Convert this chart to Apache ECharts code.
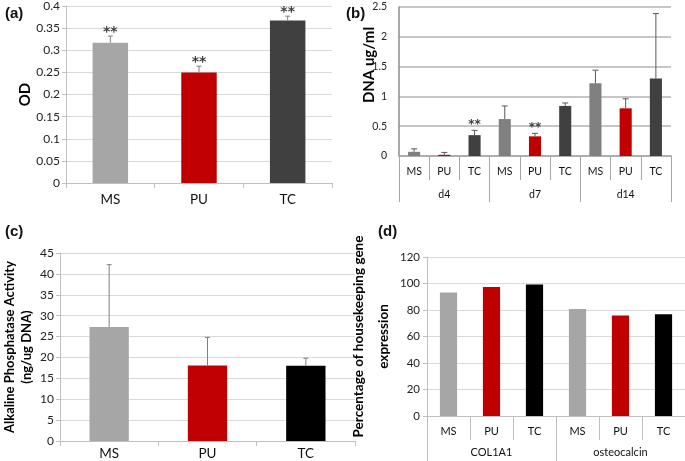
<!DOCTYPE html>
<html>
<head>
<meta charset="utf-8">
<script src="https://cdn.jsdelivr.net/npm/echarts@6/dist/echarts.min.js"></script>
<style>
html,body{margin:0;padding:0;background:#fff;}
#chart{width:685px;height:461px;}
</style>
</head>
<body>
<div id="chart"></div>
<script>
// ---- data ----
const catsA = ['MS', 'PU', 'TC'];
const odMean = [0.317, 0.250, 0.367];
const odErrTop = [0.332, 0.264, 0.377];
const odSig = ['**', '**', '**'];

const catsB = ['MS', 'PU', 'TC', 'MS', 'PU', 'TC', 'MS', 'PU', 'TC'];
const groupsB = ['d4', 'd7', 'd14'];
const dnaMean = [0.07, 0.02, 0.35, 0.62, 0.33, 0.84, 1.22, 0.80, 1.30];
const dnaErrTop = [0.12, 0.06, 0.43, 0.84, 0.38, 0.89, 1.44, 0.96, 2.39];
const dnaSig = ['', '', '**', '', '**', '', '', '', ''];

const catsC = ['MS', 'PU', 'TC'];
const alpMean = [27.3, 18.1, 18.0];
const alpErrTop = [42.2, 24.8, 19.8];

const catsD = ['MS', 'PU', 'TC', 'MS', 'PU', 'TC'];
const groupsD = ['COL1A1', 'osteocalcin'];
const geneExpr = [93.2, 97.4, 99.2, 80.8, 75.9, 76.8];

// ---- styles ----
const colA = ['#a6a6a6', '#c00000', '#404040'];
const colB = ['#808080', '#c00000', '#404040'];
const colC = ['#a6a6a6', '#c00000', '#000000'];
const FF = 'Lato, "Liberation Sans", sans-serif';

const chart = echarts.init(document.getElementById('chart'), null, {renderer: 'canvas'});

function barSeries(idx, vals, cols, width) {
  return {
    type: 'bar', xAxisIndex: idx, yAxisIndex: idx, barWidth: width,
    data: vals.map((v, i) => ({value: v, itemStyle: {color: cols[i % cols.length]}})),
    z: 2
  };
}
function errSeries(idx, means, tops, color, capW, sig, starSize, starDy) {
  return {
    type: 'custom', xAxisIndex: idx, yAxisIndex: idx, z: 4,
    data: means.map((m, i) => [i, m, tops[i]]),
    encode: {x: 0, y: [1, 2]},
    renderItem: function (params, api) {
      const x = api.value(0);
      const p0 = api.coord([x, api.value(1)]);
      const p1 = api.coord([x, api.value(2)]);
      const ch = [
        {type: 'line', shape: {x1: p0[0], y1: p0[1], x2: p1[0], y2: p1[1]}, style: {stroke: color, lineWidth: 1}},
        {type: 'line', shape: {x1: p1[0] - capW / 2, y1: p1[1], x2: p1[0] + capW / 2, y2: p1[1]}, style: {stroke: color, lineWidth: 1}}
      ];
      const s = sig ? sig[params.dataIndex] : '';
      if (s) {
        ch.push({type: 'text', x: p1[0], y: p1[1] + starDy,
          style: {text: s, fill: '#404040', fontSize: starSize, fontWeight: 'bold', fontFamily: '"DejaVu Sans", sans-serif', align: 'center', verticalAlign: 'bottom'}});
      }
      return {type: 'group', children: ch};
    }
  };
}
function yAx(idx, max, interval, name, o) {
  return Object.assign({
    gridIndex: idx, type: 'value', min: 0, max: max, interval: interval,
    axisLine: {show: true, lineStyle: {color: '#bfbfbf', width: 1}},
    axisTick: {show: true, length: 4, lineStyle: {color: '#bfbfbf'}},
    splitLine: {show: true, lineStyle: {color: '#d9d9d9', width: 1}},
    axisLabel: {color: '#222', fontSize: 12, margin: 6, fontFamily: FF},
    name: name, nameLocation: 'middle', nameRotate: 90, nameGap: 30,
    nameTextStyle: {color: '#000', fontWeight: 'bold', fontSize: 13, fontFamily: FF}
  }, o || {});
}
function xAx(idx, data, o) {
  return Object.assign({
    gridIndex: idx, type: 'category', data: data, position: 'bottom',
    axisLine: {show: true, lineStyle: {color: '#bfbfbf', width: 1}},
    axisTick: {show: true, length: 5, lineStyle: {color: '#bfbfbf'}},
    axisLabel: {color: '#111', fontSize: 13.5, margin: 10, fontFamily: FF, interval: 0},
    splitLine: {show: false}
  }, o || {});
}

const option = {
  animation: false,
  backgroundColor: '#fff',
  title: [
    {text: '(a)', left: 0, top: 1, textStyle: {fontSize: 15, fontWeight: 'bold', color: '#111', fontFamily: '"Liberation Sans", Arial, sans-serif'}},
    {text: '(b)', left: 341, top: 1, textStyle: {fontSize: 15, fontWeight: 'bold', color: '#111', fontFamily: '"Liberation Sans", Arial, sans-serif'}},
    {text: '(c)', left: 0, top: 219, textStyle: {fontSize: 15, fontWeight: 'bold', color: '#111', fontFamily: '"Liberation Sans", Arial, sans-serif'}},
    {text: '(d)', left: 373, top: 219, textStyle: {fontSize: 15, fontWeight: 'bold', color: '#111', fontFamily: '"Liberation Sans", Arial, sans-serif'}}
  ],
  graphic: [
    {type: 'text', x: 369, y: 65, rotation: Math.PI / 2,
      style: {text: 'DNA ug/ml', fill: '#000', fontWeight: 'bold', fontSize: 15, fontFamily: FF, align: 'center', verticalAlign: 'middle'}}
  ],
  grid: [
    {left: 66, top: 6, width: 266, height: 177},
    {left: 399, top: 7, width: 272, height: 149},
    {left: 59, top: 253, width: 296, height: 192},
    {left: 427, top: 257, width: 258, height: 159}
  ],
  xAxis: [
    xAx(0, catsA),
    xAx(1, catsB, {axisLine: {show: true, lineStyle: {color: '#a6a6a6', width: 1.5}},
      axisTick: {show: true, length: 24, lineStyle: {color: '#a6a6a6'}},
      axisLabel: {color: '#111', fontSize: 10.5, margin: 10, fontFamily: FF, interval: 0}}),
    xAx(2, catsC, {axisLabel: {color: '#111', fontSize: 13.5, margin: 6, fontFamily: FF, interval: 0}}),
    xAx(3, catsD, {axisLine: {show: true, lineStyle: {color: '#bfbfbf', width: 1}},
      axisTick: {show: true, length: 24, lineStyle: {color: '#bfbfbf'}},
      axisLabel: {color: '#111', fontSize: 11, margin: 10, fontFamily: FF, interval: 0}}),
    xAx(1, groupsB, {axisLine: {show: false},
      axisTick: {show: true, length: 46, lineStyle: {color: '#a6a6a6'}},
      axisLabel: {color: '#111', fontSize: 10.5, margin: 33, fontFamily: FF, interval: 0}}),
    xAx(3, groupsD, {axisLine: {show: false},
      axisTick: {show: true, length: 50, lineStyle: {color: '#bfbfbf'}},
      axisLabel: {color: '#111', fontSize: 11, margin: 31, fontFamily: FF, interval: 0}})
  ],
  yAxis: [
    yAx(0, 0.4, 0.05, 'OD', {nameGap: 30, nameTextStyle: {color: '#000', fontWeight: 'bold', fontSize: 15, fontFamily: FF}}),
    yAx(1, 2.5, 0.5, '', {
      axisLine: {show: true, lineStyle: {color: '#8c8c8c', width: 1.5}},
      axisTick: {show: false},
      splitLine: {show: true, lineStyle: {color: '#b3b3b3', width: 1.5}},
      axisLabel: {color: '#222', fontSize: 10.5, margin: 12, fontFamily: FF}}),
    yAx(2, 45, 5, 'Alkaline Phosphatase Activity\n(ng/ug DNA)', {nameGap: 25,
      nameTextStyle: {color: '#000', fontWeight: 'bold', fontSize: 13, lineHeight: 17, fontFamily: FF}}),
    yAx(3, 120, 20, 'Percentage of housekeeping gene\nexpression', {nameGap: 20, axisLabel: {color: '#222', fontSize: 11.5, margin: 7, fontFamily: FF},
      nameTextStyle: {color: '#000', fontWeight: 'bold', fontSize: 13.5, lineHeight: 25, fontFamily: FF}})
  ],
  series: [
    barSeries(0, odMean, colA, '40%'),
    errSeries(0, odMean, odErrTop, '#7f7f7f', 5, odSig, 14, 3),
    barSeries(1, dnaMean, colB, '40%'),
    errSeries(1, dnaMean, dnaErrTop, '#595959', 6, dnaSig, 12, 1),
    barSeries(2, alpMean, colC, '40%'),
    errSeries(2, alpMean, alpErrTop, '#7f7f7f', 5, null, 0, 0),
    barSeries(3, geneExpr, colC, '40%')
  ]
};
chart.setOption(option);
</script>
</body>
</html>
